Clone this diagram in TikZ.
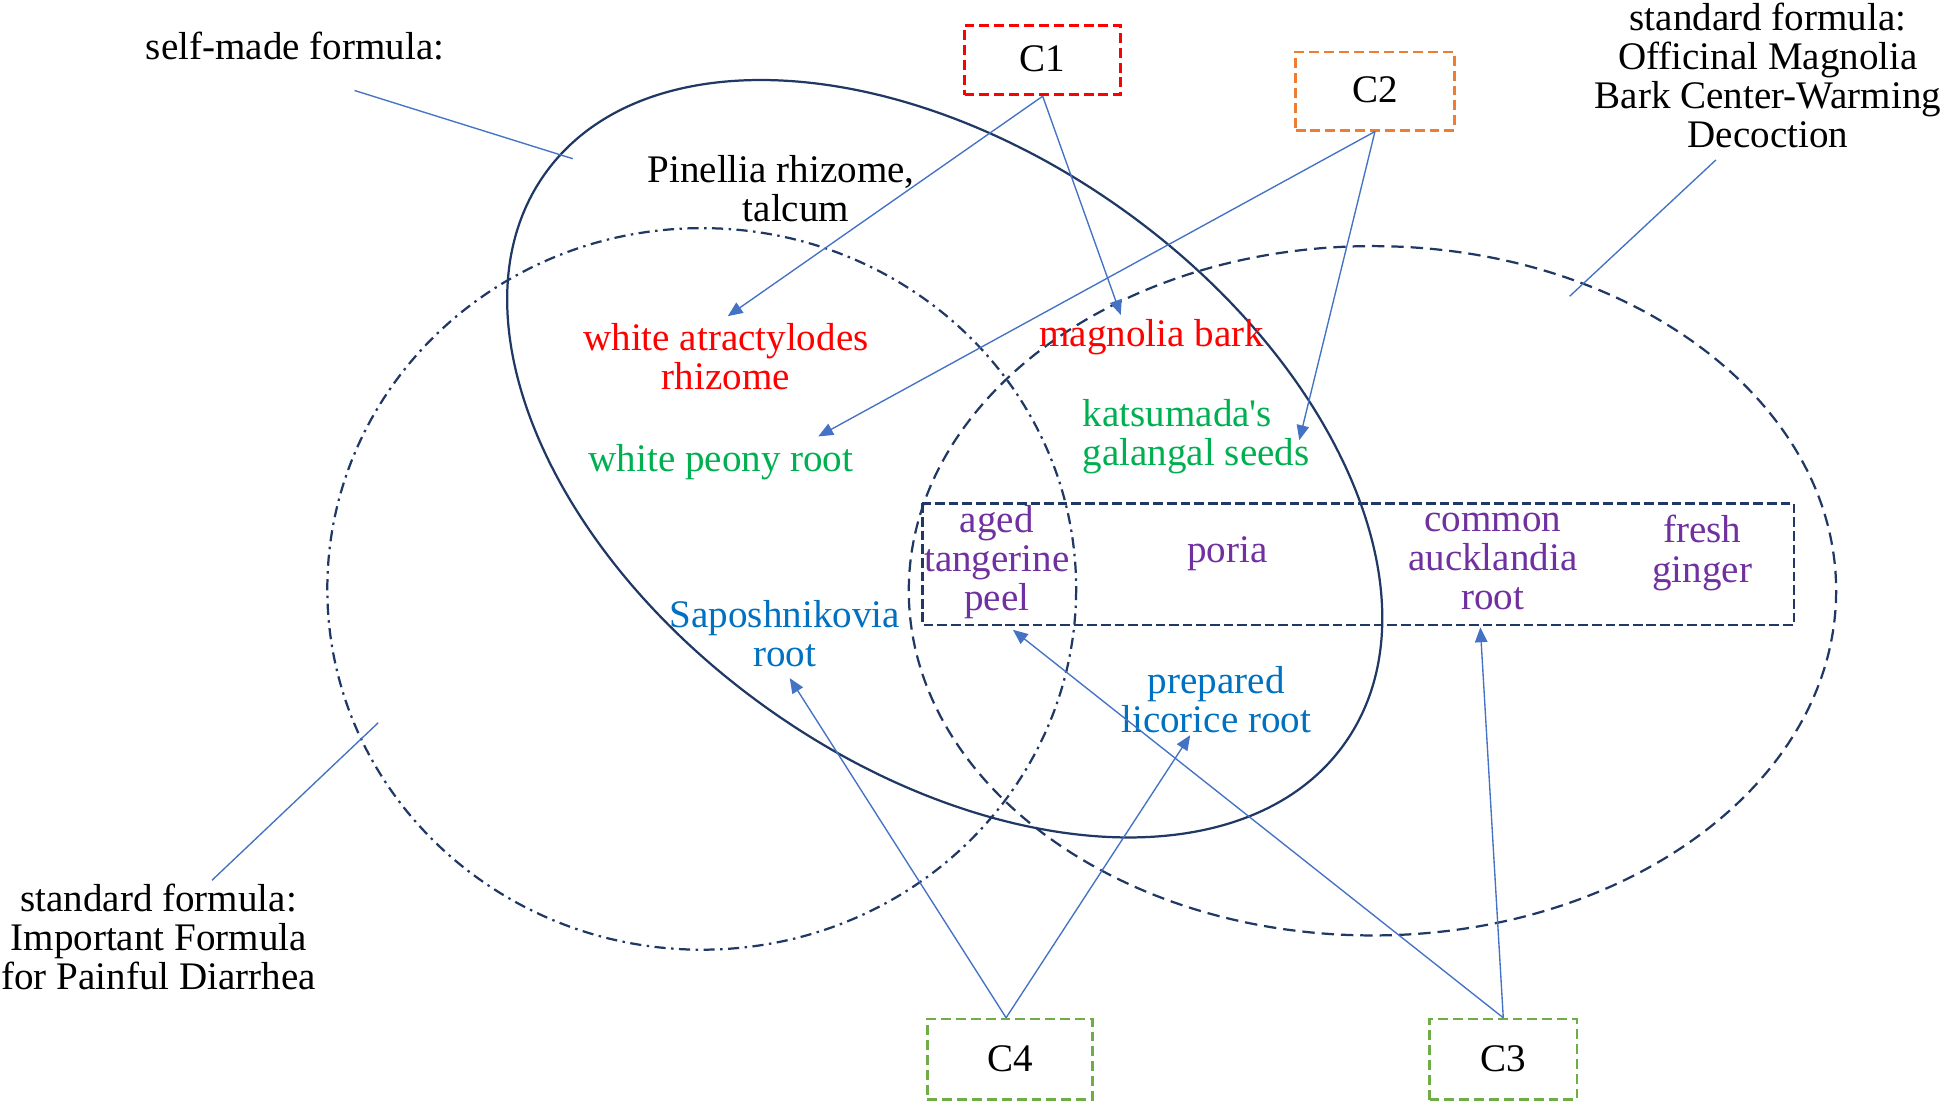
\documentclass[tikz,border=0pt]{standalone}
\usepackage{fontspec}
\setmainfont{Liberation Serif}
\usetikzlibrary{arrows.meta}
\definecolor{navy}{HTML}{203864}
\definecolor{arr}{HTML}{4472C4}
\definecolor{tred}{HTML}{FF0000}
\definecolor{tgreen}{HTML}{00B050}
\definecolor{tpurple}{HTML}{7030A0}
\definecolor{tblue}{HTML}{0070C0}
\definecolor{corange}{HTML}{ED7D31}
\definecolor{cgreen}{HTML}{70AD47}
\newcommand{\straightquote}{\XeTeXglyph\XeTeXcharglyph"0027\relax}
\begin{document}
\begin{tikzpicture}[x=0.5pt,y=-0.5pt,
  txt/.style={font=\fontsize{15.75pt}{15.75pt}\selectfont, align=center, inner sep=0pt},
  cbox/.style={txt, draw, line width=1.1pt, dash pattern=on 4pt off 2pt},
  arrowline/.style={draw=arr, line width=0.55pt, -{Triangle[length=6pt,width=5pt]}},
  leader/.style={draw=arr, line width=0.55pt},
  venn/.style={draw=navy, line width=0.9pt}]
\useasboundingbox (0,0) rectangle (1568,890);
% sets
\draw[venn, dash pattern=on 4.5pt off 2.2pt on 1pt off 2.2pt] (566,475) ellipse [x radius=302, y radius=291];
\draw[venn, dash pattern=on 5pt off 2.8pt] (1107,476.5) ellipse [x radius=374, y radius=278];
\draw[venn, rotate around={-35.5:(762,370)}] (762,370) ellipse [x radius=396, y radius=247];
\draw[venn, line width=1pt, dash pattern=on 3.9pt off 1.6pt] (744,406) rectangle (1447,504);
% labels
\node[txt] (self) at (238,37) {self-made formula:};
\node[txt] (magf) at (1426,61) {standard formula:\\Officinal Magnolia\\Bark Center-Warming\\Decoction};
\node[txt] (painf) at (128,756) {standard formula:\\Important Formula\\for Painful Diarrhea};
\node[txt] (pin) at (630,152.5) {Pinellia rhizome,\\\hspace*{12pt}talcum};
\node[txt, text=tred] (atr) at (585.5,288) {white atractylodes\\rhizome};
\node[txt, text=tred] (mag) at (929,272) {magnolia bark};
\node[txt, text=tgreen, align=left, anchor=west] (kat) at (873,352) {katsumada\straightquote s\\galangal seeds};
\node[txt, text=tgreen] (peo) at (581.5,373) {white peony root};
\node[txt, text=tpurple] (tan) at (804,453.5) {aged\\tangerine\\peel};
\node[txt, text=tpurple] (por) at (990,447) {poria};
\node[txt, text=tpurple] (auc) at (1204,453) {common\\aucklandia\\root};
\node[txt, text=tpurple] (gin) at (1373,446) {fresh\\ginger};
\node[txt, text=tblue] (sap) at (633,511) {Saposhnikovia\\root};
\node[txt, text=tblue] (lic) at (981,564) {prepared\\licorice root};
% category boxes
\node[cbox, draw=tred, minimum width=63pt, minimum height=28pt] (c1) at (841,48.5) {\raisebox{1pt}{C1}};
\node[cbox, draw=corange, minimum width=64pt, minimum height=31.5pt] (c2) at (1109,73.5) {\raisebox{1pt}{C2}};
\node[cbox, draw=cgreen, minimum width=66.5pt, minimum height=32.5pt] (c4) at (814.5,854.5) {\raisebox{1pt}{C4}};
\node[cbox, draw=cgreen, minimum width=59.5pt, minimum height=32.5pt] (c3) at (1212.5,854.5) {\raisebox{1pt}{C3}};
% arrow tips
\coordinate (tAtr) at (587,255);
\coordinate (tMag) at (904,254);
\coordinate (tPeo) at (660,352);
\coordinate (tKat) at (1048,355);
\coordinate (tSap) at (637,547);
\coordinate (tLic) at (960,593);
\coordinate (tTan) at (817,508);
\coordinate (tAuc) at (1194,506);
\draw[arrowline] (c1.south) -- (tAtr);
\draw[arrowline] (c1.south) -- (tMag);
\draw[arrowline] (c2.south) -- (tPeo);
\draw[arrowline] (c2.south) -- (tKat);
\draw[arrowline] ([xshift=-1.5pt]c4.north) -- (tSap);
\draw[arrowline] ([xshift=-1.5pt]c4.north) -- (tLic);
\draw[arrowline] (c3.north) -- (tTan);
\draw[arrowline] (c3.north) -- (tAuc);
% leader lines
\coordinate (l1a) at (286,73); \coordinate (l1b) at (462,128);
\coordinate (l2a) at (1384,129); \coordinate (l2b) at (1266,239);
\coordinate (l3a) at (305,583); \coordinate (l3b) at (171,710);
\draw[leader] (l1a) -- (l1b);
\draw[leader] (l2a) -- (l2b);
\draw[leader] (l3a) -- (l3b);
\end{tikzpicture}
\end{document}
